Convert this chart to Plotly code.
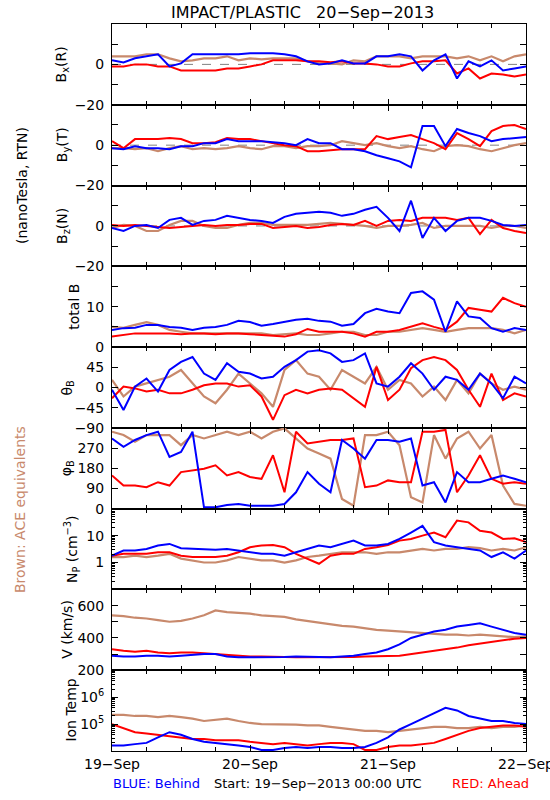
import numpy as np
import pandas as pd
import plotly.graph_objects as go

# ---------------- data (2-hour samples) ----------------
TIMES = pd.date_range("2013-09-19 00:00", "2013-09-22 00:00", freq="2h")
DAY_TICKS = pd.date_range("2013-09-19", "2013-09-22", freq="D")
DAY_LABELS = ["19\u2212Sep", "20\u2212Sep", "21\u2212Sep", "22\u2212Sep"]

BX_ACE = [4, 4, 4, 5, 5, 3, 1.5, 2, 3, 3, 4, 2, 3, 2.5, 3, 3, 3, 1.5, 0.5, 0.5, 0, 2, 1.5, 4, 4, 4, 3, 4, 4, 4, 3, 4, 2, 4, 1.5, 4, 5]
BX_RED = [-1, -1, 0, 0, -1, -1, -3, -3, -3, -3, -2, -2, -1, 0, 2, 2, 2, 1.5, 1.5, 1, 1.5, 0.5, 0.5, 0, -1, -1, 0.5, 1.5, 1.5, 2, -4.5, -2, -7, -4.5, -5, -6, -5]
BX_BLUE = [2, 1, 3, 4, 5, -1, 0.5, 5, 5, 5, 5, 5, 5.5, 5.5, 5.5, 5, 4, 1.5, 0, 0.5, 2, 0.5, 0.5, 4, 4, 5, 4, -3, 2, 5, -7, 1.5, -1, 2, -3, -2, -1]

BY_ACE = [-1.5, -1.5, -2, -1.5, -3, -1.5, -0.5, -2, -1.5, -2, -1.5, -0.5, -1.5, -2, -0.5, -0.5, -1.5, -0.5, -0.5, 0, 2, 1, 0, 1, -0.5, -1.5, -0.5, -2, -3, -0.5, 0, -0.5, -2, -3, -1.5, 0, 1]
BY_RED = [2, -1.5, 3, 3, 3, 3.5, 3, 1, 1, 1.5, 3.5, 3, 3, 2, 1, 0, -0.5, -3, -3, -2.5, -2, -2, -2, 4.5, 3, 4, 5, 3, 1, -2, 6, 3, -0.5, 7, 9.5, 10, 8]
BY_BLUE = [-1.5, -2, -0.5, -1.5, -1.5, -2, -0.5, -0.5, 1, 1, 3, 2, 2, 2, 1.5, 1, 0, 3, 1, 1, -2, -2, -3, -5, -6.5, -8, -11, 9.5, 9.5, -0.5, 8, 6, 4.5, 2, 3, 3.5, 4]

BZ_ACE = [-1, 0.5, 0, -2.5, -2.5, 0.5, 2.5, 2.5, 0, -1, -1, 0.5, 1.5, 1.5, 0.5, 0.5, 0.5, 0.5, 1, 1.5, 1, 0.5, 0, -1, 0, 0, 0.5, 1.5, -1, 0, 0, 0, 0, -1, 0, 0, -1]
BZ_RED = [0.5, 0, 0.5, 0, -0.5, -1, -0.5, 0, 0.5, 0, 0.5, 0.5, 1, 1, -1, -0.5, 0, -1, -0.5, 0.5, 1, 0.5, 2.5, 0, 2.5, 3, 2.5, 4, 4, 4, 3, 4, -4, 3, -1, -2.5, -3.5]
BZ_BLUE = [-1, -2.5, 0, 0.5, -1, 3, 4, 0.5, 2.5, 3, 5, 4, 3, 2.5, 1.5, 4.5, 6, 6.5, 7, 6.5, 5, 6, 8, 9.5, 4, -2.5, 12.5, -6, 4, -2.5, 2.5, 4, 4, 2.5, 0.5, 0, 0.5]

BT_ACE = [5, 4.8, 5.5, 6.2, 5.5, 4.25, 3.8, 3.4, 3.4, 3.4, 3.4, 3.4, 3.4, 3.4, 3, 3.2, 3.4, 3, 3, 3.4, 3.8, 3.8, 3, 3, 3.8, 3.8, 4.25, 4.7, 4.25, 3.8, 4.25, 4.7, 4.7, 4.7, 4.25, 3.4, 4.25]
BT_RED = [2.6, 3, 3.4, 3.4, 3.4, 3.4, 3.2, 3.4, 3.4, 3.2, 3.4, 3.4, 3.2, 3, 2.8, 2.6, 3.2, 4.5, 3.8, 3.8, 3.8, 3.4, 2.6, 3.8, 3.8, 4.25, 5, 5.9, 5, 4.25, 6.3, 9.7, 9.25, 8.8, 12.2, 10.9, 10]
BT_BLUE = [4.25, 4.7, 4.8, 5.5, 5.5, 5, 4.8, 4.25, 4.8, 5, 5.5, 6.5, 6.2, 5.3, 5.7, 6.2, 6.75, 7, 6.5, 6.3, 5.3, 5.7, 8.4, 9.5, 8.8, 8.4, 13.4, 13.8, 11.75, 3.8, 11.3, 7.6, 7.2, 4.7, 3.8, 4.7, 4.25]

TH_ACE = [17, -20, 2, 9, 17, 24, 39, 9, -20, -35, -5, 31, 9, -13, -43, 39, 61, 31, 24, -5, 39, 24, 9, 46, -5, 17, 9, -20, 2, -28, 17, -13, 31, 9, -5, 2, -5]
TH_RED = [-24, 2, -2, -9, -5, -13, -13, -5, 5, 9, 9, 2, 5, -20, -72, -17, -5, -13, -5, -2, -5, -24, -43, 46, -28, -5, 43, 61, 68, 61, 39, -5, -43, 31, -28, -13, -20]
TH_BLUE = [-5, -50, 2, 20, -9, 39, 57, 68, 31, 17, 54, 35, 31, 20, 24, 46, 61, 80, 83, 76, 57, 61, 76, 9, 2, 24, 54, 31, -5, 24, 17, -5, 31, 9, -24, 24, 9]

PH_ACE = [343, 328, 298, 328, 328, 328, 283, 328, 313, 328, 343, 328, 343, 313, 343, 358, 313, 268, 246, 223, 43, 13, 328, 328, 343, 283, 51, 28, 328, 223, 313, 343, 268, 328, 103, 21, 13]
PH_RED = [148, 103, 103, 96, 118, 103, 163, 171, 178, 193, 148, 163, 141, 133, 238, 73, 343, 291, 298, 306, 306, 313, 96, 103, 126, 118, 118, 343, 343, 351, 73, 148, 238, 133, 111, 118, 111]
PH_BLUE = [313, 276, 306, 328, 343, 231, 253, 343, 6, 6, 16, 21, 13, 13, 13, 21, 73, 163, 111, 73, 306, 268, 223, 306, 306, 298, 313, 103, 118, 28, 163, 118, 118, 133, 148, 133, 118]

NP_ACE = [1.6, 1.6, 1.8, 1.6, 1.8, 2.1, 1.4, 1.2, 1.0, 1.0, 1.2, 1.6, 1.4, 1.2, 1.2, 1.0, 1.2, 1.6, 1.8, 2.1, 2.4, 2.4, 2.4, 2.1, 2.4, 2.4, 2.8, 3.2, 2.8, 3.2, 3.2, 3.7, 3.4, 2.8, 3.2, 2.8, 3.7]
NP_RED = [1.8, 2.1, 2.1, 2.1, 2.4, 2.4, 1.8, 1.6, 1.6, 1.6, 1.8, 2.4, 3.7, 4.3, 4.5, 3.7, 2.1, 1.4, 0.9, 1.8, 2.1, 2.1, 3.2, 3.7, 4.5, 6.5, 7.5, 10, 13, 8.7, 36, 31, 15, 13, 7.5, 7.9, 5.7]
NP_BLUE = [1.8, 2.8, 2.8, 3.2, 4.3, 4.9, 3.4, 3.2, 3.0, 3.0, 3.2, 2.8, 2.4, 2.1, 2.1, 1.8, 2.4, 3.2, 4.3, 3.7, 4.9, 6.5, 4.3, 4.3, 4.9, 7.5, 13, 23, 5.7, 4.3, 3.7, 3.2, 2.8, 1.6, 2.4, 1.4, 2.8]

V_ACE = [540, 535, 525, 520, 510, 500, 505, 520, 540, 570, 560, 555, 550, 540, 535, 530, 515, 505, 495, 485, 475, 470, 460, 450, 445, 440, 435, 430, 425, 420, 420, 415, 420, 415, 410, 405, 410]
V_RED = [330, 320, 315, 320, 310, 305, 310, 310, 305, 300, 295, 290, 285, 285, 285, 282, 280, 280, 280, 280, 282, 282, 285, 285, 288, 290, 300, 310, 320, 330, 340, 355, 365, 375, 385, 395, 400]
V_BLUE = [290, 285, 285, 290, 290, 285, 290, 295, 300, 300, 285, 280, 280, 280, 280, 282, 285, 285, 282, 280, 285, 290, 300, 310, 330, 360, 400, 420, 440, 450, 470, 480, 490, 470, 450, 430, 420]

T_ACE = [2.2e5, 2.2e5, 2.0e5, 2.0e5, 1.8e5, 2.0e5, 1.8e5, 1.6e5, 1.3e5, 1.4e5, 1.6e5, 1.3e5, 1.1e5, 1.0e5, 1.0e5, 1.0e5, 9.5e4, 8.9e4, 8.9e4, 7.9e4, 7.1e4, 6.3e4, 5.6e4, 5.6e4, 5.0e4, 5.6e4, 6.3e4, 7.1e4, 7.9e4, 7.9e4, 7.1e4, 7.1e4, 7.9e4, 7.1e4, 7.9e4, 7.9e4, 8.9e4]
T_RED = [1.0e5, 7.1e4, 5.0e4, 4.5e4, 4.0e4, 3.5e4, 3.2e4, 2.8e4, 2.8e4, 2.5e4, 2.5e4, 2.5e4, 2.2e4, 2.0e4, 1.8e4, 2.0e4, 1.8e4, 1.6e4, 1.8e4, 2.0e4, 2.0e4, 1.8e4, 1.1e4, 1.1e4, 1.4e4, 1.6e4, 1.6e4, 1.8e4, 2.0e4, 2.8e4, 4.0e4, 5.6e4, 7.1e4, 7.9e4, 8.9e4, 8.9e4, 7.9e4]
T_BLUE = [1.6e4, 1.6e4, 1.8e4, 2.0e4, 3.2e4, 5.0e4, 4.0e4, 2.8e4, 2.2e4, 2.0e4, 1.8e4, 1.6e4, 1.4e4, 1.1e4, 1.1e4, 1.3e4, 1.4e4, 1.3e4, 1.4e4, 1.4e4, 1.3e4, 1.3e4, 1.4e4, 2.0e4, 3.2e4, 6.3e4, 1.0e5, 1.6e5, 2.5e5, 4.0e5, 3.2e5, 2.0e5, 1.6e5, 1.3e5, 1.3e5, 1.1e5, 1.0e5]

# ---------------- styling ----------------
W, H = 550, 800
X0, X1 = 112, 526
TOP, BOT = 24, 751
NP_ = 9
PH = (BOT - TOP) / NP_
FONT = "DejaVu Sans"
BLUE, RED, BROWN = "#0000FF", "#FF0000", "#C8896C"
MINUS = "\u2212"


def log_minor(lo, hi):
    return [m * 10.0 ** e for e in range(lo, hi) for m in range(2, 10)]


panels = [
    dict(data=(BX_ACE, BX_RED, BX_BLUE), rng=[-20, 20], tv=[-20, 0], tt=[MINUS + "20", "0"], mv=[-10, 10],
         title="B<sub>x</sub>(R)", tx=62, zero=True),
    dict(data=(BY_ACE, BY_RED, BY_BLUE), rng=[-20, 20], tv=[-20, 0], tt=[MINUS + "20", "0"], mv=[-10, 10],
         title="B<sub>y</sub>(T)", tx=63, zero=True),
    dict(data=(BZ_ACE, BZ_RED, BZ_BLUE), rng=[-20, 20], tv=[-20, 0], tt=[MINUS + "20", "0"], mv=[-10, 10],
         title="B<sub>z</sub>(N)", tx=63, zero=True),
    dict(data=(BT_ACE, BT_RED, BT_BLUE), rng=[0, 20], tv=[0, 10], tt=["0", "10"], mv=[5, 15],
         title="total B", tx=74),
    dict(data=(TH_ACE, TH_RED, TH_BLUE), rng=[-90, 90], tv=[-90, -45, 0, 45],
         tt=[MINUS + "90", MINUS + "45", "0", "45"], title="\u03b8<sub>B</sub>", tx=67),
    dict(data=(PH_ACE, PH_RED, PH_BLUE), rng=[0, 360], tv=[0, 90, 180, 270], tt=["0", "90", "180", "270"],
         title="\u03c6<sub>B</sub>", tx=67),
    dict(data=(NP_ACE, NP_RED, NP_BLUE), rng=[-1, 2], log=True, tv=[1, 10], tt=["1", "10"],
         mv=log_minor(-1, 2), title="N<sub>P</sub> (cm<sup>\u22123</sup>)", tx=72),
    dict(data=(V_ACE, V_RED, V_BLUE), rng=[200, 700], tv=[200, 400, 600],
         tt=["200", "400", "600"], mv=[300, 500], title="V (km/s)", tx=67),
    dict(data=(T_ACE, T_RED, T_BLUE), rng=[4, 7], log=True, tv=[1e5, 1e6],
         tt=["10<sup>5</sup>", "10<sup>6</sup>"], mv=log_minor(4, 7), title="Ion Temp", tx=71),
]

fig = go.Figure()
layout = dict(width=W, height=H, margin=dict(l=0, r=0, t=0, b=0), paper_bgcolor="white",
              plot_bgcolor="white", showlegend=False, font=dict(family=FONT, size=14, color="black"))
annotations = []
shapes = []

for i, p in enumerate(panels):
    k = i + 1
    sfx = "" if k == 1 else str(k)
    top = TOP + i * PH
    dom = [1 - (top + PH) / H, 1 - top / H]
    ace, red, blue = p["data"]
    for vals, col, w in ((ace, BROWN, 2.2), (red, RED, 2), (blue, BLUE, 2)):
        fig.add_trace(go.Scatter(x=TIMES, y=vals, mode="lines", line=dict(color=col, width=w),
                                 xaxis="x" + sfx, yaxis="y" + sfx, hoverinfo="skip"))
    xa = dict(domain=[X0 / W, X1 / W], anchor="y" + sfx, type="date",
              range=[TIMES[0], TIMES[-1]], showline=True, linecolor="black", linewidth=1,
              mirror="allticks", ticks="inside", ticklen=6, tickcolor="black",
              tickmode="array", tickvals=list(DAY_TICKS), ticktext=DAY_LABELS,
              showticklabels=(k == NP_), showgrid=False, zeroline=False, automargin=False,
              ticklabeloverflow="allow", tickfont=dict(size=14),
              minor=dict(ticks="inside", ticklen=4, tickcolor="black", dtick=6 * 3600 * 1000,
                         tick0="2013-09-19", showgrid=False))
    if k > 1:
        xa["matches"] = "x"
    ya = dict(domain=dom, anchor="x" + sfx, range=p["rng"], showline=True, linecolor="black",
              linewidth=1, mirror="allticks", ticks="inside", ticklen=6, tickcolor="black",
              tickmode="array", tickvals=p["tv"], ticktext=p["tt"], showgrid=False,
              zeroline=False, automargin=False, tickfont=dict(size=14), ticklabelstandoff=4)
    if p.get("log"):
        ya["type"] = "log"
    if p.get("mv"):
        ya["minor"] = dict(ticks="inside", ticklen=3 if p.get("log") else 6, tickcolor="black",
                           tickmode="array", tickvals=p["mv"], showgrid=False)
    layout["xaxis" + sfx] = xa
    layout["yaxis" + sfx] = ya
    if p.get("zero"):
        shapes.append(dict(type="line", xref="x" + sfx, yref="y" + sfx, x0=TIMES[0], x1=TIMES[-1],
                           y0=0, y1=0, line=dict(color="#808080", width=1, dash="dash"), layer="below"))
    annotations.append(dict(text=p["title"], xref="paper", yref="paper", x=p["tx"] / W,
                            y=1 - (top + PH / 2) / H, xanchor="center", yanchor="middle",
                            textangle=-90, showarrow=False, font=dict(size=14)))

annotations += [
    dict(text="IMPACT/PLASTIC\u00a0\u00a0\u00a0" + "20" + MINUS + "Sep" + MINUS + "2013", x=302 / W, y=1 - 12 / H,
         xref="paper", yref="paper", xanchor="center", yanchor="middle", showarrow=False,
         font=dict(size=16)),
    dict(text="(nanoTesla, RTN)", x=22 / W, y=1 - 186 / H, xref="paper", yref="paper",
         xanchor="center", yanchor="middle", textangle=-90, showarrow=False, font=dict(size=14)),
    dict(text="Brown: ACE equivalents", x=20 / W, y=1 - 510 / H, xref="paper", yref="paper",
         xanchor="center", yanchor="middle", textangle=-90, showarrow=False,
         font=dict(size=14, color=BROWN)),
    dict(text="BLUE: Behind", x=111 / W, y=1 - 783 / H, xref="paper", yref="paper",
         xanchor="left", yanchor="middle", showarrow=False, font=dict(size=13, color=BLUE)),
    dict(text="Start: 19" + MINUS + "Sep" + MINUS + "2013 00:00 UTC", x=212 / W, y=1 - 783 / H,
         xref="paper", yref="paper", xanchor="left", yanchor="middle", showarrow=False,
         font=dict(size=13, color="black")),
    dict(text="RED: Ahead", x=450 / W, y=1 - 783 / H, xref="paper", yref="paper",
         xanchor="left", yanchor="middle", showarrow=False, font=dict(size=13, color=RED)),
]

layout["annotations"] = annotations
layout["shapes"] = shapes
fig.update_layout(**layout)
fig.write_html("out.html", config={"displayModeBar": False, "staticPlot": True},
               post_script="document.body.style.margin='0px';")
